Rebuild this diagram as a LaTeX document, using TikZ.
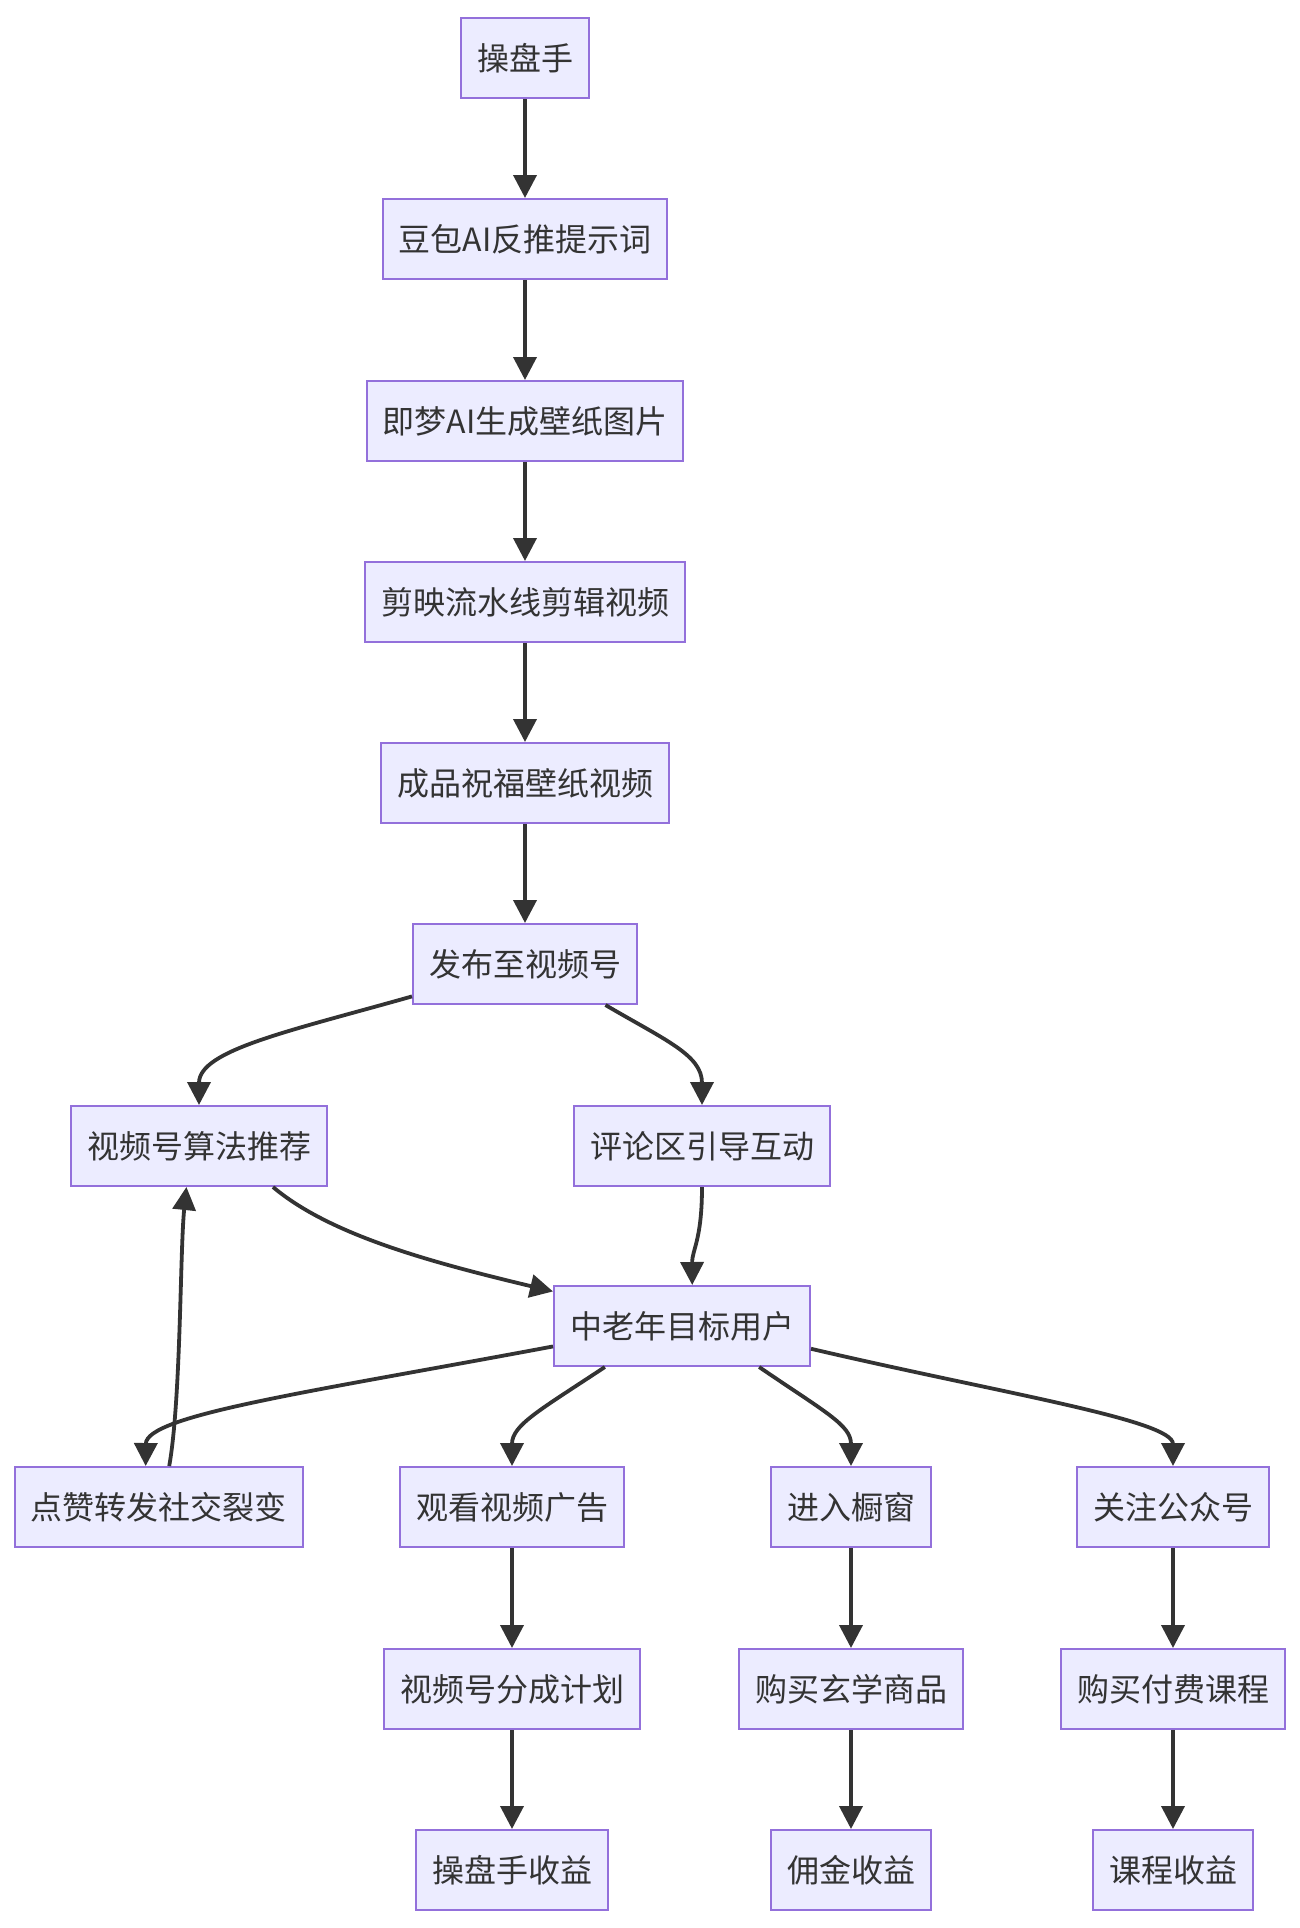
\documentclass[tikz,border=0pt]{standalone}
\usepackage{fontspec}
\setmainfont{Noto Sans CJK SC}
\usetikzlibrary{arrows.meta}
\definecolor{boxfill}{HTML}{ECECFF}
\definecolor{boxline}{HTML}{9370DB}
\definecolor{edge}{HTML}{333333}
\begin{document}
\begin{tikzpicture}[x=0.5pt, y=-0.5pt,
	box/.style={rectangle, draw=boxline, fill=boxfill, line width=1pt, text=edge, inner xsep=8pt, minimum height=40pt, font=\fontsize{16pt}{19pt}\selectfont},
	flow/.style={draw=edge, line width=1.9pt, -{Triangle[length=11.5pt, width=11.5pt]}}]
			\useasboundingbox (0,0) rectangle (1300,1928);
			% main chain
			\node[box](czs) at (525,58){操盘手};
			\node[box](db) at (525,239){豆包AI反推提示词};
			\node[box](jm) at (525,421){即梦AI生成壁纸图片};
			\node[box](jy) at (525,602){剪映流水线剪辑视频};
			\node[box](cp) at (525,783){成品祝福壁纸视频};
			\node[box](fb) at (525,964){发布至视频号};
			\node[box](tj) at (199,1146){视频号算法推荐};
			\node[box](pl) at (702,1146){评论区引导互动};
			\node[box](yh) at (682,1326){中老年目标用户};
			% bottom rows
			\node[box](dz) at (159,1507){点赞转发社交裂变};
			\node[box](gk) at (512,1507){观看视频广告};
			\node[box](jr) at (851,1507){进入橱窗};
			\node[box](gz) at (1173,1507){关注公众号};
			\node[box](fc) at (512,1689){视频号分成计划};
			\node[box](xx) at (851,1689){购买玄学商品};
			\node[box](kc) at (1173,1689){购买付费课程};
			\node[box](sy) at (512,1870){操盘手收益};
			\node[box](yj) at (851,1870){佣金收益};
			\node[box](kcsy) at (1173,1870){课程收益};
			\draw[flow] (czs) -- (db);
			\draw[flow] (db) -- (jm);
			\draw[flow] (jm) -- (jy);
			\draw[flow] (jy) -- (cp);
			\draw[flow] (cp) -- (fb);
			\draw[flow] (fb.196) .. controls (290,1031) and (199,1050) .. (tj.north);
			\draw[flow] (fb.-27) .. controls (665,1040) and (702,1055) .. (pl.north);
			\draw[flow] (tj.-29) .. controls (330,1235) and (430,1262) .. (yh.165);
			\draw[flow] (pl.south) .. controls (702,1240) and (692,1250) .. (yh.76);
			\draw[flow] (yh.189) .. controls (310,1392) and (146,1415) .. (dz.108);
			\draw[flow] (yh.208) .. controls (540,1410) and (512,1425) .. (gk.north);
			\draw[flow] (yh.-28) .. controls (825,1412) and (851,1425) .. (jr.north);
			\draw[flow] (yh.-10) .. controls (1000,1393) and (1173,1420) .. (gz.north);
			\draw[flow] (dz.76) .. controls (181,1400) and (180,1250) .. (tj.253);
			\draw[flow] (gk) -- (fc);
			\draw[flow] (fc) -- (sy);
			\draw[flow] (jr) -- (xx);
			\draw[flow] (xx) -- (yj);
			\draw[flow] (gz) -- (kc);
			\draw[flow] (kc) -- (kcsy);
\end{tikzpicture}
\end{document}
